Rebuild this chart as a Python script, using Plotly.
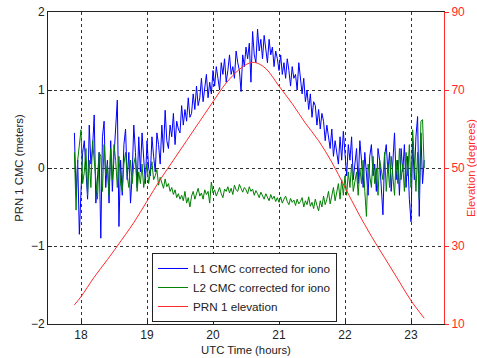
import numpy as np
import plotly.graph_objects as go

# Time axis for CMC series (hours UTC), 0.025 h spacing starting 17.9
t_start = 17.9
t_step = 0.025

l1_cmc = [
    0.45, -0.35, 0.10, -0.85, -0.30, 0.20, 0.35, -0.10, -0.40, 0.55,
    0.05, 0.25, 0.68, -0.45, -0.15, 0.20, -0.90, 0.40, 0.60, -0.25,
    0.10, -0.45, 0.35, -0.30, 0.15, 0.45, 0.87, -0.75, 0.10, -0.35,
    0.30, 0.50, -0.15, 0.20, -0.45, -0.10, 0.55, 0.20, -0.25, 0.40,
    -0.05, 0.45, 0.10, -0.20,
    0.35, 0.00, -0.10, 0.40, 0.15, -0.05, 0.45, 0.30, 0.05, 0.55,
    0.20, 0.74, 0.35, 0.25, 0.55, 0.40, 0.70, 0.30, 0.60, 0.50,
    0.45, 0.80, 0.55, 0.75, 0.60, 0.90, 0.65, 0.70, 0.95, 0.75,
    1.05, 0.80, 0.90, 1.15, 0.85, 1.00, 1.20, 0.90, 1.10, 0.95,
    1.25,
    1.05, 1.30, 1.15, 1.00, 1.35, 1.20, 1.40, 1.10, 1.25, 1.45,
    1.20, 1.30, 1.15, 1.50, 1.35, 1.25, 0.98, 1.45, 1.30, 1.55,
    1.40, 1.60, 1.10, 1.75, 1.45, 1.35, 1.78, 1.50, 1.65, 1.40,
    1.70, 1.55, 1.35, 1.65, 1.45, 1.55, 1.30, 1.50, 1.40, 1.25,
    1.45, 1.20, 1.35, 1.15, 1.40, 1.25, 1.05, 1.30, 1.15, 1.20,
    1.00, 1.35, 1.10, 0.95, 1.15, 0.85, 1.00, 0.75, 0.95, 0.65,
    0.85, 0.80, 0.55, 0.75, 0.50, 0.70, 0.60, 0.35, 0.55, 0.40,
    0.25, 0.50, 0.15, 0.35, 0.20, 0.05, 0.40, 0.10, 0.47, 0.20,
    -0.10, 0.30, 0.10, 0.40, -0.15, 0.05, 0.25, -0.20, 0.35, 0.10,
    -0.25, 0.20, -0.05, -0.35, 0.15, 0.30, -0.10, 0.05, -0.30, 0.25,
    0.10, -0.20, -0.60, 0.15, 0.30, -0.05, 0.20, -0.30, 0.05, 0.45,
    -0.15, 0.10, -0.35, 0.25, -0.05, 0.30, -0.25, 0.15, -0.40, -0.69,
    0.35, -0.15, 0.40, 0.66, -0.62, 0.45, -0.20, 0.10,
]

l2_cmc = [
    0.20, -0.54, 0.10, 0.30, 0.49, -0.20, -0.05, 0.25, -0.35, 0.10,
    -0.25, 0.35, 0.05, -0.15, -0.40, 0.20, 0.15, -0.30, 0.30, -0.10,
    0.05, -0.35, 0.25, -0.15, 0.30, 0.10, -0.25, 0.15, -0.20, -0.30,
    0.05, 0.20, -0.10, -0.25, 0.10, -0.20, 0.05, 0.15, -0.30, -0.05,
    -0.20, 0.05, -0.25, -0.10,
    0.05, -0.20, -0.05, 0.08, -0.15, -0.10, -0.02, -0.22, -0.12, -0.18,
    -0.26, -0.14, -0.24, -0.20, -0.30, -0.25, -0.34, -0.28, -0.38, -0.33,
    -0.40, -0.35, -0.42, -0.30, -0.45, -0.38, -0.50, -0.36, -0.30, -0.40,
    -0.34, -0.26, -0.36, -0.32, -0.40, -0.28, -0.34, -0.30, -0.45, -0.18,
    -0.32,
    -0.28, -0.36, -0.30, -0.25, -0.33, -0.38, -0.27, -0.30, -0.24, -0.32,
    -0.26, -0.34, -0.22, -0.28, -0.30, -0.21, -0.26, -0.31, -0.25, -0.28,
    -0.33, -0.24, -0.30, -0.27, -0.35, -0.29, -0.33, -0.38, -0.31, -0.36,
    -0.40, -0.33, -0.37, -0.42, -0.34, -0.40, -0.36, -0.43, -0.38, -0.44,
    -0.37, -0.45, -0.40, -0.36, -0.43, -0.47, -0.39, -0.44, -0.41, -0.48,
    -0.40, -0.46, -0.43, -0.38, -0.50, -0.42, -0.47, -0.37, -0.49, -0.44,
    -0.52, -0.40, -0.48, -0.55, -0.42, -0.50, -0.36, -0.47, -0.40, -0.30,
    -0.46, -0.35, -0.25, -0.42, -0.30, -0.20, -0.40, -0.15, -0.35, -0.10,
    -0.35, -0.05, -0.25, 0.05, -0.30, -0.15, -0.05, -0.35, 0.00, -0.20,
    0.10, -0.30, -0.62, 0.05, -0.10, -0.25, 0.15, -0.20, 0.00, -0.35,
    0.10, -0.05, -0.15, 0.20, -0.30, 0.05, -0.25, 0.15, -0.10, -0.35,
    0.10, -0.20, 0.25, -0.15, 0.05, -0.30, 0.20, -0.10, 0.30, -0.25,
    0.49, 0.10, -0.30, 0.20, -0.40, 0.60, 0.62, 0.00,
]

elev_time = [17.9, 18.0, 18.2, 18.4, 18.55, 18.8, 19.0, 19.2, 19.4, 19.6,
             19.8, 20.0, 20.2, 20.4, 20.55, 20.65, 20.8, 21.0, 21.2, 21.4,
             21.6, 21.8, 22.0, 22.2, 22.4, 22.6, 22.8, 23.0, 23.2]
elev_deg = [14.9, 17.0, 22.0, 26.5, 30.0, 36.0, 41.5, 47.0, 52.0, 57.0,
            62.0, 67.0, 71.8, 75.3, 76.9, 77.0, 75.5, 71.0, 66.5, 61.5,
            57.0, 51.5, 45.0, 38.5, 32.5, 27.0, 21.5, 16.0, 11.5]

x_ticks = [18, 19, 20, 21, 22, 23]
y1_ticks = [-2, -1, 0, 1, 2]
y2_ticks = [10, 30, 50, 70, 90]

n = min(len(l1_cmc), len(l2_cmc))
cmc_time = np.round(t_start + t_step * np.arange(n), 3)

FONT = "Liberation Sans, Arial, sans-serif"
RED = "#ff2a2a"

fig = go.Figure()
fig.add_trace(go.Scatter(x=cmc_time, y=l1_cmc[:n], mode="lines", name="L1 CMC corrected for iono",
                         line=dict(color="#0000ff", width=1)))
fig.add_trace(go.Scatter(x=cmc_time, y=l2_cmc[:n], mode="lines", name="L2 CMC corrected for iono",
                         line=dict(color="#008000", width=1)))
fig.add_trace(go.Scatter(x=elev_time, y=elev_deg, mode="lines", name="PRN 1 elevation",
                         line=dict(color=RED, width=1, shape="spline"), yaxis="y2"))

fig.update_layout(
    width=477, height=358,
    margin=dict(l=48, r=33, t=12, b=34),
    paper_bgcolor="white", plot_bgcolor="white",
    font=dict(family=FONT, size=11, color="#222"),
    showlegend=True,
    legend=dict(x=0.2626, y=0.2276, xanchor="left", yanchor="top",
                bordercolor="#222", borderwidth=1, bgcolor="white",
                font=dict(size=11.7, family=FONT), tracegroupgap=0,
                itemwidth=30),
    xaxis=dict(range=[17.5, 23.5], tickvals=x_ticks, ticks="inside", ticklen=4,
               tickcolor="#222", showline=True, linecolor="#222", linewidth=1, mirror=True,
               showgrid=True, gridcolor="#333", griddash="3px,3px", gridwidth=1,
               zeroline=False, tickfont=dict(size=12), automargin=False,
               title=dict(text="UTC Time (hours)", font=dict(size=11.3), standoff=4)),
    yaxis=dict(range=[-2, 2], tickvals=y1_ticks, ticks="inside", ticklen=4,
               tickcolor="#222", showline=True, linecolor="#222", linewidth=1,
               showgrid=True, gridcolor="#333", griddash="3px,3px", gridwidth=1,
               zeroline=False, tickfont=dict(size=12), automargin=False,
               title=dict(text="PRN 1 CMC (meters)", font=dict(size=11.3), standoff=4)),
    yaxis2=dict(range=[10, 90], tickvals=y2_ticks, overlaying="y", side="right",
                ticks="outside", ticklen=4, tickcolor=RED, showline=True, linecolor=RED,
                linewidth=1, showgrid=False, zeroline=False, automargin=False,
                tickfont=dict(size=12, color=RED),
                title=dict(text="Elevation (degrees)", font=dict(size=11.3, color=RED), standoff=4)),
)

fig.write_html("out.html")
